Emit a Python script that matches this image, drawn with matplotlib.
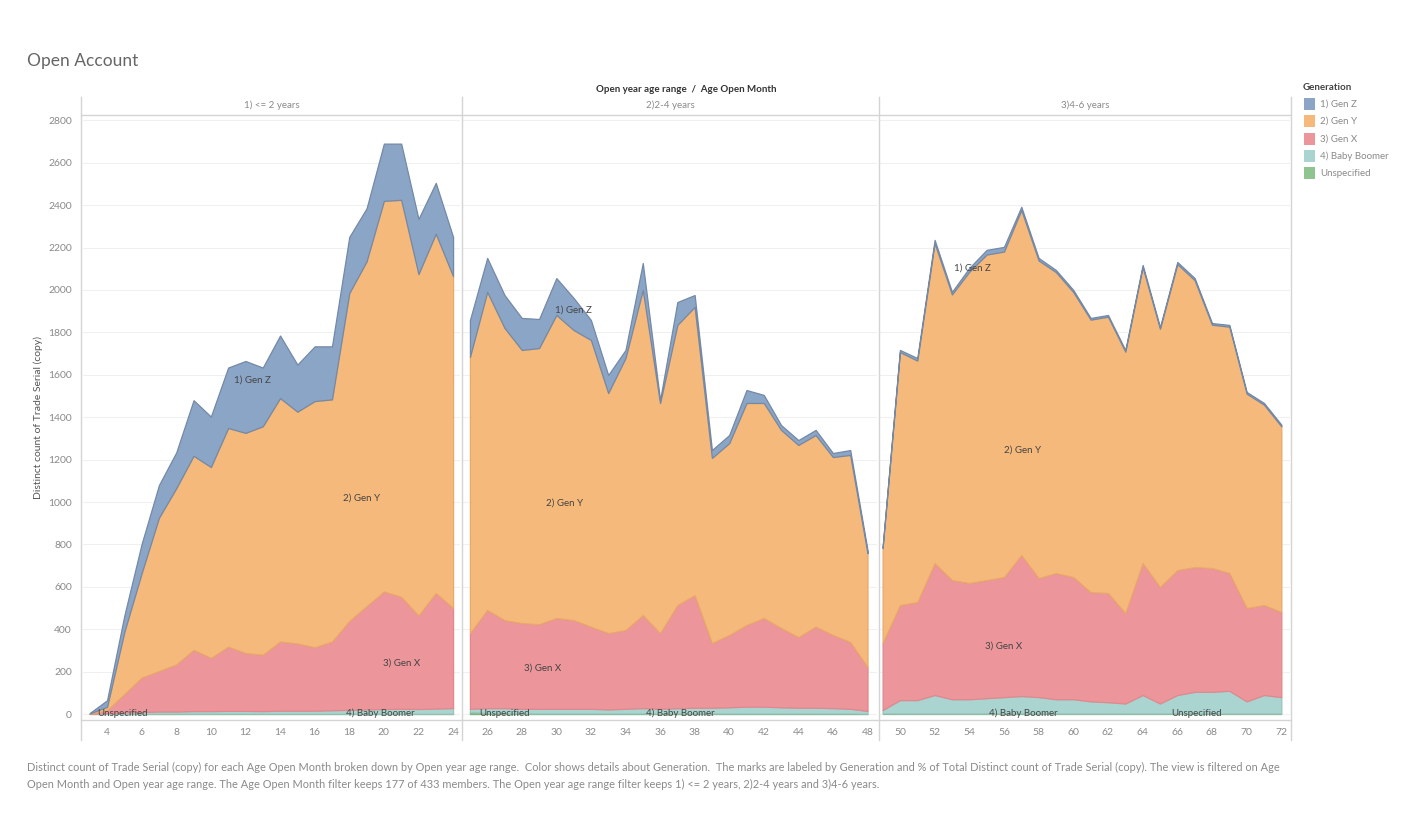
import matplotlib.pyplot as plt
from matplotlib.lines import Line2D

plt.rcParams['font.family'] = ['Lato', 'DejaVu Sans']

# series, bottom to top
generations = ['Unspecified', '4) Baby Boomer', '3) Gen X', '2) Gen Y', '1) Gen Z']
legend_order = ['1) Gen Z', '2) Gen Y', '3) Gen X', '4) Baby Boomer', 'Unspecified']
panel_titles = ['1) <= 2 years', '2)2-4 years', '3)4-6 years']

# 1) <= 2 years
months_1 = list(range(3, 25))
unspec_1 = [1, 2, 2, 2, 2, 2, 2, 2, 2, 2, 2, 2, 2, 2, 2, 2, 2, 2, 2, 2, 2, 2]
boomer_1 = [0, 2, 6, 8, 10, 10, 12, 12, 13, 13, 12, 14, 14, 14, 16, 18, 20, 22, 23, 22, 24, 26]
genx_1 = [1, 14, 87, 162, 191, 222, 289, 251, 303, 273, 266, 326, 317, 299, 324, 419, 487, 554, 528, 441, 545, 472]
geny_1 = [1, 16, 293, 493, 723, 831, 915, 900, 1031, 1038, 1077, 1148, 1093, 1161, 1142, 1546, 1626, 1842, 1872, 1610, 1694, 1565]
genz_1 = [2, 31, 77, 138, 154, 169, 262, 238, 285, 339, 277, 295, 222, 258, 250, 265, 250, 270, 265, 260, 240, 185]

# 2) 2-4 years
months_2 = list(range(25, 49))
unspec_2 = [10, 6, 4, 3, 3, 3, 3, 3, 3, 3, 3, 3, 3, 3, 3, 3, 3, 3, 3, 3, 3, 3, 3, 2]
boomer_2 = [15, 22, 24, 22, 22, 22, 22, 22, 19, 22, 25, 22, 25, 27, 27, 29, 32, 32, 29, 27, 27, 25, 22, 13]
genx_2 = [357, 463, 415, 404, 399, 428, 418, 387, 360, 371, 439, 357, 486, 531, 305, 341, 385, 418, 374, 333, 382, 345, 315, 207]
geny_2 = [1302, 1500, 1378, 1288, 1302, 1429, 1368, 1352, 1132, 1283, 1533, 1085, 1321, 1359, 873, 905, 1047, 1014, 934, 906, 904, 839, 882, 537]
genz_2 = [174, 160, 155, 151, 137, 174, 151, 94, 85, 38, 127, 14, 108, 56, 37, 38, 61, 38, 23, 23, 24, 19, 23, 15]

# 3) 4-6 years
months_3 = list(range(49, 73))
unspec_3 = [3] * 24
boomer_3 = [16, 63, 63, 87, 67, 67, 72, 77, 82, 77, 67, 67, 57, 53, 47, 87, 47, 87, 102, 102, 107, 57, 87, 77]
genx_3 = [316, 448, 462, 622, 562, 548, 557, 566, 665, 561, 595, 576, 515, 515, 426, 622, 549, 589, 588, 584, 555, 440, 424, 401]
geny_3 = [448, 1193, 1139, 1509, 1347, 1468, 1535, 1535, 1627, 1498, 1419, 1344, 1285, 1303, 1233, 1396, 1218, 1443, 1353, 1147, 1162, 1011, 945, 876]
genz_3 = [5, 10, 12, 15, 12, 18, 22, 22, 15, 12, 10, 10, 8, 8, 8, 10, 8, 10, 10, 8, 8, 8, 8, 8]

panels = [
    (months_1, [unspec_1, boomer_1, genx_1, geny_1, genz_1]),
    (months_2, [unspec_2, boomer_2, genx_2, geny_2, genz_2]),
    (months_3, [unspec_3, boomer_3, genx_3, geny_3, genz_3]),
]

colors = {'1) Gen Z': '#8ba5c6', '2) Gen Y': '#f5b97b', '3) Gen X': '#ec969b',
          '4) Baby Boomer': '#a9d4cf', 'Unspecified': '#8fc38f'}
edges = {'1) Gen Z': '#7489a6', '2) Gen Y': '#e9a96a', '3) Gen X': '#e2878d',
         '4) Baby Boomer': '#97c6c0', 'Unspecified': '#7fb07f'}

# label anchor (month, value) per panel
label_pos = [
    {'1) Gen Z': (12.4, 1575), '2) Gen Y': (18.7, 1019), '3) Gen X': (21.0, 240),
     '4) Baby Boomer': (19.8, 5), 'Unspecified': (4.9, 5)},
    {'1) Gen Z': (31.0, 1906), '2) Gen Y': (30.5, 995), '3) Gen X': (29.2, 217),
     '4) Baby Boomer': (37.2, 5), 'Unspecified': (27.0, 5)},
    {'1) Gen Z': (54.2, 2104), '2) Gen Y': (57.1, 1245), '3) Gen X': (56.0, 321),
     '4) Baby Boomer': (57.1, 5), 'Unspecified': (67.1, 5)},
]

W, H = 1424, 827
fig = plt.figure(figsize=(W / 100, H / 100), dpi=100)


def rect(x0, y0, x1, y1):
    return [x0 / W, 1 - y1 / H, (x1 - x0) / W, (y1 - y0) / H]


grey_txt = '#8a8a8a'
line_c = '#d4d4d4'
bounds = [(83, 460, 2.61, 24.4), (463, 877, 24.6, 48.55), (880, 1290, 48.85, 72.5)]
tick_sets = [range(4, 25, 2), range(26, 49, 2), range(50, 73, 2)]

for i, ((months, series), (x0, x1, lo, hi)) in enumerate(zip(panels, bounds)):
    ax = fig.add_axes(rect(x0, 115, x1, 720))
    polys = ax.stackplot(months, *series, colors=[colors[g] for g in generations], zorder=2)
    for p, g in zip(polys, generations):
        p.set_edgecolor(edges[g])
        p.set_linewidth(0.9)
    ax.set_xlim(lo, hi)
    ax.set_ylim(-28, 2825)
    ax.set_yticks(range(0, 2801, 200))
    ax.grid(axis='y', color='#f0f0f0', lw=0.8, zorder=0)
    ax.set_xticks(list(tick_sets[i]))
    ax.tick_params(axis='x', length=0, labelsize=7.5, labelcolor=grey_txt, pad=6)
    for s in ax.spines.values():
        s.set_visible(False)
    if i == 0:
        ax.tick_params(axis='y', length=0, labelsize=7.5, labelcolor=grey_txt, pad=8)
        ax.set_ylabel('Distinct count of Trade Serial (copy)', fontsize=7.5, color='#555555', labelpad=4)
    else:
        ax.tick_params(axis='y', length=0, labelleft=False)
    for g, (mx, my) in label_pos[i].items():
        ax.text(mx, my, g, fontsize=7, color='#444444', ha='center', va='center', zorder=5)
    fig.text(((x0 + x1) / 2) / W, 1 - 105 / H, panel_titles[i], fontsize=7, color=grey_txt,
             ha='center', va='center')

# frame lines
for x in [81, 461.5, 878.5, 1291]:
    fig.add_artist(Line2D([x / W, x / W], [1 - 97 / H, 1 - 740 / H], color=line_c, lw=1))
fig.add_artist(Line2D([81 / W, 1291 / W], [1 - 115 / H, 1 - 115 / H], color=line_c, lw=1))
fig.add_artist(Line2D([81 / W, 1291 / W], [1 - 720 / H, 1 - 720 / H], color=line_c, lw=1))

fig.text(27 / W, 1 - 61 / H, 'Open Account', fontsize=12.5, color='#666666', va='center')
fig.text(686 / W, 1 - 89 / H, 'Open year age range  /  Age Open Month', fontsize=7,
         color='#333333', ha='center', va='center', fontweight='bold')

# legend
fig.text(1303 / W, 1 - 88 / H, 'Generation', fontsize=7, color='#444444', va='center', fontweight='bold')
for k, g in enumerate(legend_order):
    yc = 104 + k * 17.3
    fig.add_artist(plt.Rectangle((1304 / W, 1 - (yc + 6) / H), 11 / W, 12 / H,
                                 facecolor=colors[g], edgecolor='none', transform=fig.transFigure))
    fig.text(1320 / W, 1 - yc / H, g, fontsize=7, color=grey_txt, va='center')

note = ('Distinct count of Trade Serial (copy) for each Age Open Month broken down by Open year age range.  '
        'Color shows details about Generation.  The marks are labeled by Generation and % of Total Distinct '
        'count of Trade Serial (copy). The view is filtered on Age\n'
        'Open Month and Open year age range. The Age Open Month filter keeps 177 of 433 members. '
        'The Open year age range filter keeps 1) <= 2 years, 2)2-4 years and 3)4-6 years.')
fig.text(27 / W, 1 - 776 / H, note, fontsize=7.9, color='#8a8a8a', va='center', linespacing=1.6)

fig.savefig('out.png', dpi=100, facecolor='white')
